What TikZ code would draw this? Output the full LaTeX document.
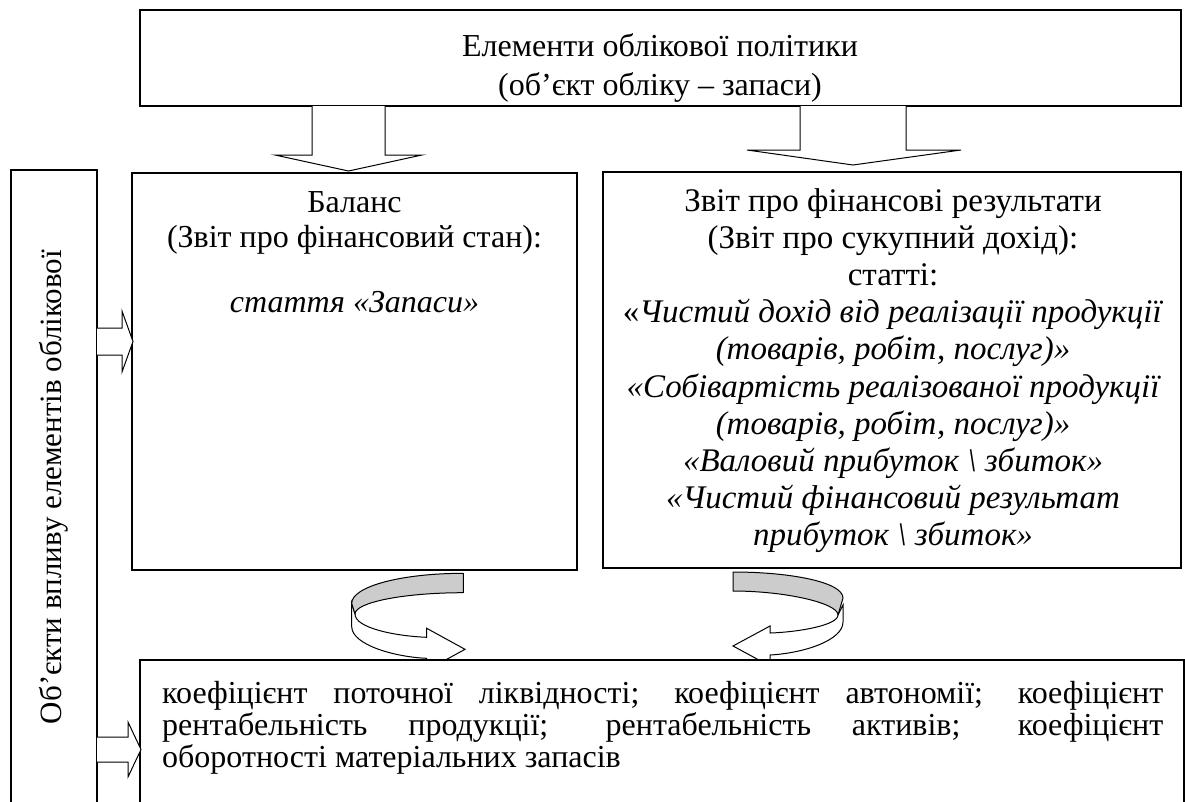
\documentclass[tikz,border=0pt]{standalone}
\usepackage{fontspec}
\setmainfont{Liberation Serif}
\begin{document}
\begin{tikzpicture}[x=1pt,y=-1pt,
  box/.style={draw, line width=1.5pt, fill=white, inner sep=0pt},
  arr/.style={draw, line width=1pt, fill=white, line join=miter},
  band/.style={draw, line width=1pt, fill=black!20, line join=round},
  txt/.style={inner sep=0pt, font=\fontsize{32}{36}\selectfont},
  rtxt/.style={inner sep=0pt, font=\fontsize{33}{37}\selectfont},
]
\useasboundingbox (0,0) rectangle (1185,801);
\clip (0,0) rectangle (1185,801);

% main boxes
\node[box, minimum width=1041pt, minimum height=96pt] (top) at (660.5,58) {};
\node[box, minimum width=445pt, minimum height=397pt] (lbox) at (354.5,371.5) {};
\node[box, minimum width=578pt, minimum height=396pt] (rbox) at (892,370) {};
\node[box, minimum width=86pt, minimum height=660pt] (side) at (54,500) {};

% down block arrows
\draw[arr] (312,106) -- (312,155) -- (275,155) -- (348.5,171) -- (422,155) -- (385,155) -- (385,106);
\draw[arr] (800,106) -- (800,150) -- (747,150) -- (853,165) -- (961,150) -- (906,150) -- (906,106);

% curved arrows
\draw[arr] (355,614) .. controls (355,628) and (395,636) .. (426.7,637.3) -- (426.7,628.3) -- (465,649.3) -- (426.7,670.3) -- (426.7,658.3) .. controls (395,657) and (352,645) .. (351.7,626.7) -- (351.7,603) -- cycle;
\draw[band] (463.3,573.3) .. controls (401.7,573.3) and (351.7,586.4) .. (351.7,603.3) -- (355,614) .. controls (355,602.4) and (403.4,592.7) .. (463.3,592.7) -- cycle;

\draw[arr] (838,615) .. controls (838,625) and (800,632) .. (770,633) -- (770,626) -- (733,646) -- (770,666) -- (770,655) .. controls (805,653) and (843,640) .. (843,622) -- (843,605) -- cycle;
\draw[band] (733,572) .. controls (790,572) and (843,582) .. (843,598) -- (838,615) .. controls (838,603) and (785,591) .. (733,591) -- cycle;

% bottom box
\node[box, minimum width=1044pt, minimum height=180pt] (bot) at (662,750) {};

% side block arrows
\draw[arr] (97,328) -- (122,328) -- (122,311) -- (133,341.5) -- (122,372) -- (122,355) -- (97,355);
\draw[arr] (97,737) -- (128,737) -- (128,722) -- (141,749.5) -- (128,777) -- (128,762) -- (97,762);

% texts
\node[txt, anchor=base] (t1) at (660,56) {Елементи облікової політики};
\node[txt, anchor=base] (t2) at (660,95) {(об’єкт обліку – запаси)};

\node[txt, anchor=base] (l1) at (354.5,212) {Баланс};
\node[txt, anchor=base] (l2) at (354.5,247) {(Звіт про фінансовий стан):};
\node[txt, anchor=base] (l3) at (354.5,312) {\itshape стаття «Запаси»};

\node[rtxt, anchor=base] (r1) at (893,211) {Звіт про фінансові результати};
\node[rtxt, anchor=base] (r2) at (893,248.2) {(Звіт про сукупний дохід):};
\node[rtxt, anchor=base] (r3) at (893,285.4) {статті:};
\node[rtxt, anchor=base] (r4) at (893,322.6) {«\textit{Чистий дохід від реалізації продукції}};
\node[rtxt, anchor=base] (r5) at (893,359.8) {\itshape (товарів, робіт, послуг)»};
\node[rtxt, anchor=base] (r6) at (893,397) {\itshape «Собівартість реалізованої продукції};
\node[rtxt, anchor=base] (r7) at (893,434.2) {\itshape (товарів, робіт, послуг)»};
\node[rtxt, anchor=base] (r8) at (893,471.4) {\itshape «Валовий прибуток \textbackslash{} збиток»};
\node[rtxt, anchor=base] (r9) at (893,508.6) {\itshape «Чистий фінансовий результат};
\node[rtxt, anchor=base] (r10) at (893,545.8) {\itshape прибуток \textbackslash{} збиток»};

\node[inner sep=0pt, font=\fontsize{31}{36}\selectfont, rotate=90] (st) at (54,487) {Об’єкти впливу елементів облікової};

\node[txt, anchor=base west] (bt) at (162,703) {\parbox[t]{1001pt}{\fontsize{32}{32}\selectfont\hyphenpenalty=10000\sloppy
коефіцієнт поточної ліквідності; коефіцієнт автономії; коефіцієнт\linebreak
рентабельність продукції; рентабельність активів; коефіцієнт\linebreak
оборотності матеріальних запасів}};
\end{tikzpicture}
\end{document}
